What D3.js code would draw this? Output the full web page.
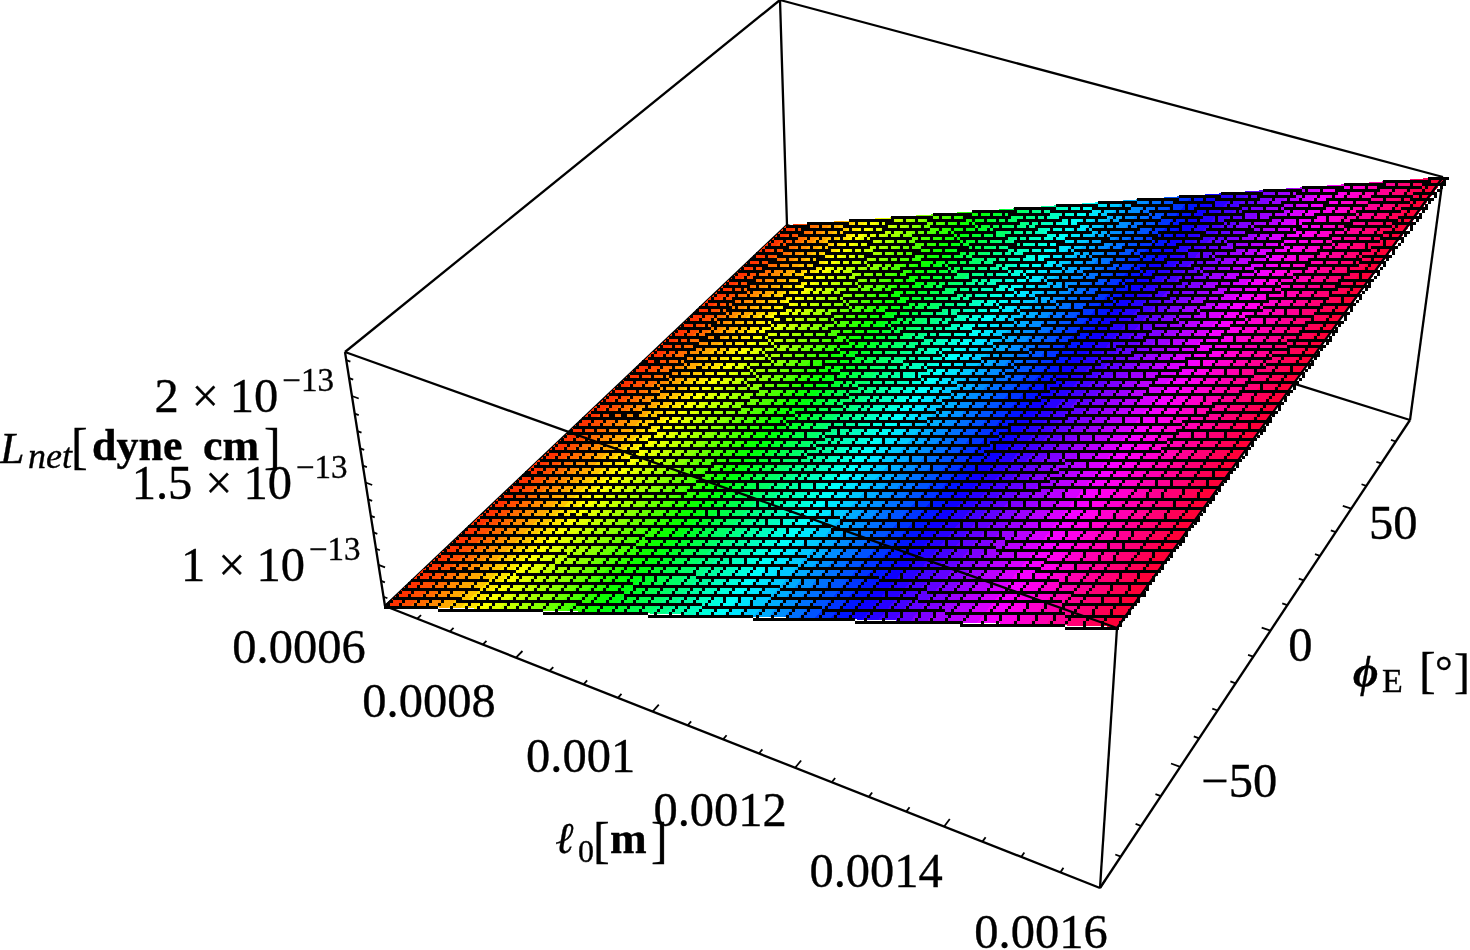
<!DOCTYPE html>
<html><head><meta charset="utf-8">
<script src="https://cdn.jsdelivr.net/npm/d3@7/dist/d3.min.js"></script>
<style>html,body{margin:0;background:#fff}svg{display:block}text{font-family:"Liberation Serif",serif;fill:#000;stroke:#000;stroke-width:.35}</style>
</head><body><svg id="c" width="1470" height="950"></svg>
<script>
// ---- data ----
const ell0 = [0.0006,0.0006204,0.0006408,0.0006612,0.0006816,0.000702,0.0007224,0.0007429,0.0007633,0.0007837,0.0008041,0.0008245,0.0008449,0.0008653,0.0008857,0.0009061,0.0009265,0.0009469,0.0009673,0.0009878,0.0010082,0.0010286,0.001049,0.0010694,0.0010898,0.0011102,0.0011306,0.001151,0.0011714,0.0011918,0.0012122,0.0012327,0.0012531,0.0012735,0.0012939,0.0013143,0.0013347,0.0013551,0.0013755,0.0013959,0.0014163,0.0014367,0.0014571,0.0014776,0.001498,0.0015184,0.0015388,0.0015592,0.0015796,0.0016];
const phiE = [-90,-86.3,-82.7,-79,-75.3,-71.6,-68,-64.3,-60.6,-56.9,-53.3,-49.6,-45.9,-42.2,-38.6,-34.9,-31.2,-27.6,-23.9,-20.2,-16.5,-12.9,-9.2,-5.5,-1.8,1.8,5.5,9.2,12.9,16.5,20.2,23.9,27.6,31.2,34.9,38.6,42.2,45.9,49.6,53.3,56.9,60.6,64.3,68,71.6,75.3,79,82.7,86.3,90];
const lnet = [0.741,0.772,0.802,0.833,0.864,0.894,0.925,0.956,0.987,1.017,1.048,1.079,1.109,1.14,1.171,1.201,1.232,1.263,1.293,1.324,1.355,1.385,1.416,1.447,1.477,1.508,1.539,1.569,1.6,1.631,1.661,1.692,1.723,1.753,1.784,1.815,1.846,1.876,1.907,1.938,1.968,1.999,2.03,2.06,2.091,2.122,2.152,2.183,2.214,2.245];
const ellTicks = [0.0006,0.0008,0.001,0.0012,0.0014,0.0016];
const ellTickLabels = ["0.0006","0.0008","0.001","0.0012","0.0014","0.0016"];
const ellMinor = [0.00065,0.0007,0.00075,0.00085,0.0009,0.00095,0.00105,0.0011,0.00115,0.00125,0.0013,0.00135,0.00145,0.0015,0.00155];
const phiTicks = [-50,0,50];
const phiMinor = [-80,-70,-60,-40,-30,-20,-10,10,20,30,40,60,70,80];
const zTicks = [1,1.5,2];
const zTickLabels = ["1","1.5","2"];
const zMinor = [0.8,0.9,1.1,1.2,1.3,1.4,1.6,1.7,1.8,1.9,2.1,2.2];

// ---- layout ----
const P = {
  o:[385,606], t:[1100,888], s:[787,225], ts:[1410,420],
  u:[345,352], tu:[1117,628], su:[780,0], tsu:[1443,177]
};
const ellLabelDx=[-86,-87,-72,-75,-68,-59], ellLabelDy=[57,59,60,58,60,60];
const phiLabelDx=[59,30,42], phiLabelDy=30;
const tx = d3.scaleLinear().domain([0.0006,0.0016]).range([0,1]);
const sx = d3.scaleLinear().domain([-90,90]).range([0,1]);
const ux = d3.scaleLinear().domain([0.741,2.245]).range([0,1]);
const hue = d3.scaleLinear().domain([0.741,2.245]).range([8,350]);

// projective camera of the box, solved from its corners
const A=[P.t[0]-P.ts[0],P.s[0]-P.ts[0],P.t[1]-P.ts[1],P.s[1]-P.ts[1]];
const R=[P.ts[0]-P.t[0]-P.s[0]+P.o[0],P.ts[1]-P.t[1]-P.s[1]+P.o[1]];
const det=A[0]*A[3]-A[1]*A[2];
const al=(R[0]*A[3]-A[1]*R[1])/det, be=(A[0]*R[1]-A[2]*R[0])/det;
const ga=(P.t[0]*(1+al)+P.u[0]-P.o[0]-P.tu[0]*(1+al))/(P.tu[0]-P.u[0]);
const vec=(c,k)=>[c[0]*(1+k)-P.o[0],c[1]*(1+k)-P.o[1]];
const va=vec(P.t,al),vb=vec(P.s,be),vc=vec(P.u,ga);
function project(t,s,u){
  const w=1+t*al+s*be+u*ga;
  return [(P.o[0]+t*va[0]+s*vb[0]+u*vc[0])/w,(P.o[1]+t*va[1]+s*vb[1]+u*vc[1])/w];
}
const at=(e,f,z)=>project(tx(e),sx(f),ux(z));

// staircase path that mimics the coarse raster of the original
function stair(p,q,pix,th){
  let x0=Math.round(p[0]/pix),y0=Math.round(p[1]/pix);
  const x1=Math.round(q[0]/pix),y1=Math.round(q[1]/pix);
  const dx=Math.abs(x1-x0),dy=Math.abs(y1-y0),sxx=x0<x1?1:-1,syy=y0<y1?1:-1;
  const steep=dy>dx; let err=dx-dy; const pts=[];
  for(;;){pts.push([x0,y0]); if(x0===x1&&y0===y1)break;
    const e2=2*err; if(e2>-dy){err-=dy;x0+=sxx} if(e2<dx){err+=dx;y0+=syy}}
  let d="",i=0;
  while(i<pts.length){
    let j=i; while(j+1<pts.length&&(steep?pts[j+1][0]===pts[i][0]:pts[j+1][1]===pts[i][1]))j++;
    const a=pts[i],b=pts[j];
    if(steep){const top=Math.min(a[1],b[1])*pix,h=(Math.abs(b[1]-a[1])+1)*pix;
      d+=`M${a[0]*pix+(pix-th)/2} ${top}h${th}v${h}h${-th}z`;}
    else{const lf=Math.min(a[0],b[0])*pix,w=(Math.abs(b[0]-a[0])+1)*pix;
      d+=`M${lf} ${a[1]*pix+(pix-th)/2}h${w}v${th}h${-w}z`;}
    i=j+1;
  }
  return d;
}

const svg=d3.select("#c");
const defs=svg.append("defs");
defs.append("filter").attr("id","soft").attr("filterUnits","userSpaceOnUse")
  .attr("x",0).attr("y",0).attr("width",1470).attr("height",950)
  .append("feGaussianBlur").attr("stdDeviation",0.55);
const root=svg.append("g").attr("filter","url(#soft)");
const line=d3.line();

function boxEdges(g,edges){
  g.selectAll("path.e").data(edges).join("path").attr("class","e")
    .attr("d",d=>line(d)).attr("fill","none").attr("stroke","#000").attr("stroke-width",2.3);
}
// back edges, behind the surface
boxEdges(root.append("g"),[[P.s,P.ts],[P.s,P.su],[P.ts,P.tsu],[P.su,P.tsu],[P.u,P.su],[P.o,P.s]]);

// surface cells
const cells=[];
for(let i=0;i<ell0.length-1;i++)for(let j=0;j<phiE.length-1;j++)cells.push({i,j});
const surf=root.append("g").attr("shape-rendering","crispEdges");
surf.selectAll("polygon").data(cells).join("polygon")
  .attr("points",c=>[
    at(ell0[c.i],phiE[c.j],lnet[c.i]),at(ell0[c.i+1],phiE[c.j],lnet[c.i+1]),
    at(ell0[c.i+1],phiE[c.j+1],lnet[c.i+1]),at(ell0[c.i],phiE[c.j+1],lnet[c.i])
  ].map(p=>p.join(",")).join(" "))
  .attr("fill",c=>d3.hsl(hue((lnet[c.i]+lnet[c.i+1])/2),1,0.5).formatHex());

// mesh
const rows=phiE.map(f=>ell0.map((e,i)=>at(e,f,lnet[i])));
const cols=ell0.map((e,i)=>phiE.map(f=>at(e,f,lnet[i])));
surf.selectAll("path.m").data([...rows,...cols]).join("path").attr("class","m")
  .attr("d",l=>stair(l[0],l[l.length-1],3,3)).attr("fill","#000");

// front edges
boxEdges(root.append("g"),[[P.u,P.o],[P.o,P.t],[P.t,P.tu],[P.t,P.ts],[P.u,P.tu],[P.tu,P.tsu]]);

// ticks
const ticks=[];
ellTicks.forEach(v=>ticks.push([project(tx(v),0,0),project(tx(v),0.014,0)]));
ellMinor.forEach(v=>ticks.push([project(tx(v),0,0),project(tx(v),0.008,0)]));
phiTicks.forEach(v=>ticks.push([project(1,sx(v),0),project(0.988,sx(v),0)]));
phiMinor.forEach(v=>ticks.push([project(1,sx(v),0),project(0.993,sx(v),0)]));
zTicks.forEach(v=>ticks.push([project(0,0,ux(v)),project(0.01,0,ux(v))]));
zMinor.forEach(v=>ticks.push([project(0,0,ux(v)),project(0.006,0,ux(v))]));
root.append("g").selectAll("path").data(ticks).join("path").attr("d",d=>line(d))
  .attr("stroke","#000").attr("stroke-width",1.8).attr("fill","none");

// tick labels
const T=root.append("g").attr("font-size",48.5);
T.selectAll("text.l").data(ellTicks).join("text").attr("class","l")
  .attr("text-anchor","middle")
  .attr("x",(v,i)=>project(tx(v),0,0)[0]+ellLabelDx[i]).attr("y",(v,i)=>project(tx(v),0,0)[1]+ellLabelDy[i])
  .text((v,i)=>ellTickLabels[i]);
T.selectAll("text.p").data(phiTicks).join("text").attr("class","p")
  .attr("text-anchor","middle")
  .attr("x",(v,i)=>project(1,sx(v),0)[0]+phiLabelDx[i]).attr("y",v=>project(1,sx(v),0)[1]+phiLabelDy)
  .text(v=>v<0?"\u2212"+(-v):String(v));
const zt=T.selectAll("text.z").data(zTicks).join("text").attr("class","z")
  .attr("text-anchor","end")
  .attr("x",v=>project(0,0,ux(v))[0]-18).attr("y",v=>project(0,0,ux(v))[1]+16);
zt.append("tspan").text((v,i)=>zTickLabels[i]);
zt.append("tspan").attr("dx",13).attr("font-size",48).text("\u00d7");
zt.append("tspan").attr("dx",11).text("10");
zt.append("tspan").attr("dx",4).attr("dy",-21).attr("font-size",33).text("\u221213");

// axis titles
const L=root.append("g");
const tt=(x,y,s,size,o={})=>L.append("text").attr("x",x).attr("y",y).attr("font-size",size)
  .attr("font-style",o.it?"italic":null).attr("font-weight",o.b?"bold":null).text(s);
tt(0,463,"L",44,{it:1});
tt(28,468,"net",36,{it:1});
tt(71,463,"[",50);
tt(92,460,"dyne",44,{b:1});
tt(203,460,"cm",44,{b:1});
tt(264,463,"]",50);
tt(556,853,"\u2113",44,{it:1,b:1});
tt(578,862,"0",32);
tt(593,857,"[",50);
tt(610,853,"m",44,{b:1});
tt(651,857,"]",50);
tt(1353,687,"\u03d5",44,{it:1,b:1});
tt(1382,692,"E",34);
tt(1419,687,"[",50);
tt(1435,686,"\u00b0",44);
tt(1454,687,"]",48);
</script></body></html>
